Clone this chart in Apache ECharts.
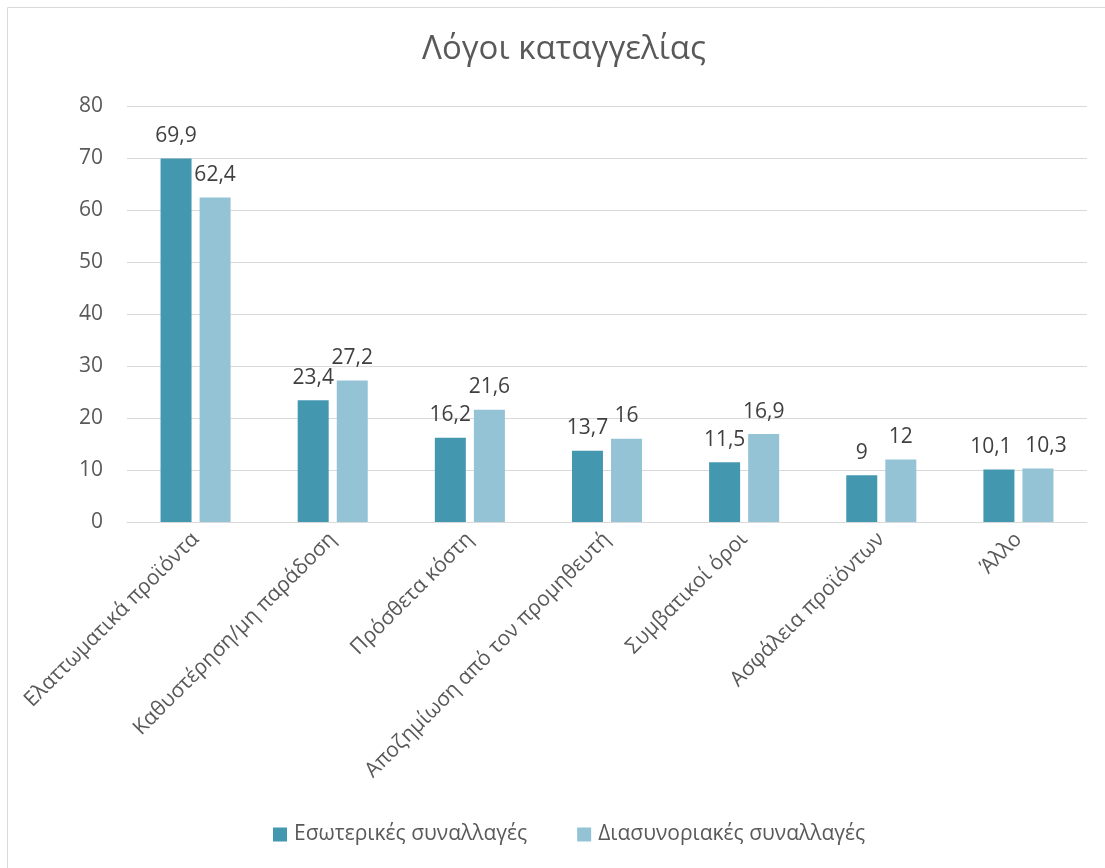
<!DOCTYPE html>
<html>
<head>
<meta charset="utf-8">
<script src="https://cdn.jsdelivr.net/npm/echarts@6/dist/echarts.min.js"></script>
<style>
  html, body { margin: 0; padding: 0; background: #ffffff; }
  #chart { width: 1105px; height: 868px; }
</style>
</head>
<body>
<div id="chart"></div>
<script>
// Complaint reasons: domestic vs cross-border transactions (%)
const categories = [
  'Ελαττωματικά προϊόντα',
  'Καθυστέρηση/μη παράδοση',
  'Πρόσθετα κόστη',
  'Αποζημίωση από τον προμηθευτή',
  'Συμβατικοί όροι',
  'Ασφάλεια προϊόντων',
  'Άλλο'
];
const domestic = [69.9, 23.4, 16.2, 13.7, 11.5, 9, 10.1];
const crossBorder = [62.4, 27.2, 21.6, 16, 16.9, 12, 10.3];
const seriesNames = ['Εσωτερικές συναλλαγές', 'Διασυνοριακές συναλλαγές'];

const FONT = '"Open Sans", "Noto Sans", sans-serif';
const fmt = p => String(p.value).replace('.', ',');

const valueLabel = {
  show: true, position: 'top', distance: 12, formatter: fmt,
  fontFamily: FONT, fontSize: 21, color: '#404040'
};

// When a pair of values is nearly equal their labels sit side by side at the
// same height; nudge them apart so they do not run into each other.
function withSpread(values, others, dir) {
  return values.map((v, i) => {
    if (Math.abs(v - others[i]) < 1) {
      return { value: v, label: { offset: [dir * 8, 0] } };
    }
    return v;
  });
}

const chart = echarts.init(document.getElementById('chart'));
chart.setOption({
  animation: false,
  textStyle: { fontFamily: FONT },
  title: {
    text: 'Λόγοι καταγγελίας',
    left: 417,
    top: 28,
    textStyle: { fontFamily: FONT, fontSize: 33, fontWeight: 'normal', color: '#595959' }
  },
  graphic: [{
    type: 'rect',
    shape: { x: 7.5, y: 7.5, width: 1200, height: 1000 },
    style: { fill: 'none', stroke: '#d9d9d9', lineWidth: 1 },
    silent: true
  }],
  legend: {
    top: 819,
    left: 268,
    itemWidth: 14,
    itemHeight: 14,
    itemGap: 50,
    icon: 'rect',
    textStyle: { fontFamily: FONT, fontSize: 21, color: '#595959', padding: [0, 0, 0, 2] },
    data: seriesNames
  },
  grid: { left: 127, right: 18, top: 106, bottom: 346, containLabel: false },
  xAxis: {
    type: 'category',
    data: categories,
    axisLine: { lineStyle: { color: '#d9d9d9', width: 1 } },
    axisTick: { show: false },
    axisLabel: {
      rotate: 45,
      interval: 0,
      margin: 14,
      fontFamily: FONT,
      fontSize: 21,
      color: '#595959'
    }
  },
  yAxis: {
    type: 'value',
    min: 0,
    max: 80,
    interval: 10,
    axisLine: { show: false },
    axisTick: { show: false },
    splitLine: { lineStyle: { color: '#d9d9d9', width: 1 } },
    axisLabel: { fontFamily: FONT, fontSize: 21, color: '#595959', margin: 24 }
  },
  series: [
    {
      name: seriesNames[0],
      type: 'bar',
      data: withSpread(domestic, crossBorder, -1),
      barWidth: 31,
      barGap: '26%',
      itemStyle: { color: '#4398b0' },
      label: valueLabel
    },
    {
      name: seriesNames[1],
      type: 'bar',
      data: withSpread(crossBorder, domestic, 1),
      barWidth: 31,
      itemStyle: { color: '#93c3d5' },
      label: valueLabel
    }
  ]
});
</script>
</body>
</html>
